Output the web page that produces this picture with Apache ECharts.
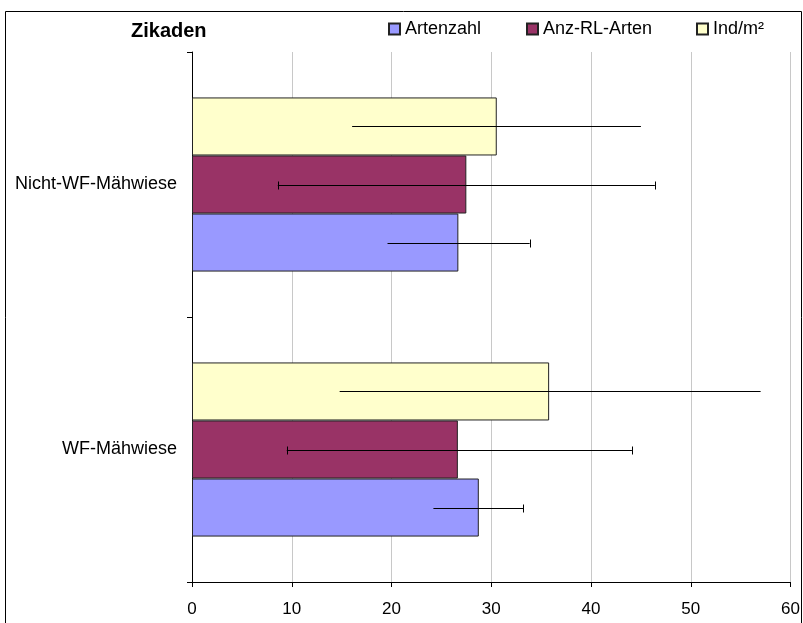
<!DOCTYPE html>
<html>
<head>
<meta charset="utf-8">
<script src="https://cdn.jsdelivr.net/npm/echarts@6/dist/echarts.min.js"></script>
<style>
html,body{margin:0;padding:0;background:#fff;}
#chart{width:803px;height:623px;}
</style>
</head>
<body>
<div id="chart"></div>
<script>
// ---- data ----
const categories = ['WF-Mähwiese', 'Nicht-WF-Mähwiese'];
const seriesNames = ['Artenzahl', 'Anz-RL-Arten', 'Ind/m²'];
const artenzahl = [28.75, 26.7];
const anzRL = [26.65, 27.5];
const indM2 = [35.8, 30.55];
const artenzahlErr = [[24.2, 33.2], [19.6, 33.85]];
const anzRLErr = [[9.5, 44.1], [8.6, 46.4]];
const indM2Err = [[14.8, 57.0], [16.05, 45.0]];
const xTicks = [0, 10, 20, 30, 40, 50, 60];

// ---- styles ----
const colors = ['#9999FF', '#993366', '#FFFFCC'];
const GAP = 0.343;
const FONT = 'Liberation Sans, Arial, sans-serif';

const chart = echarts.init(document.getElementById('chart'), null, {renderer: 'canvas'});

// pos: 0 = top bar within band, 2 = bottom bar
function errSeries(idx, pos, errs, capLeft, capRight) {
  return {
    type: 'custom',
    name: seriesNames[idx] + ' err',
    z: 10,
    silent: true,
    encode: {x: [0, 1], y: 2},
    data: errs.map((e, i) => [e[0], e[1], i]),
    renderItem: function (params, api) {
      const lo = api.value(0), hi = api.value(1), cat = api.value(2);
      const pLo = api.coord([lo, cat]);
      const pHi = api.coord([hi, cat]);
      const band = api.size([0, 1])[1];
      const barH = band * (1 - GAP) / 3;
      const y = Math.round(pLo[1] + (pos - 1) * barH) + 0.5;
      const st = {stroke: '#000', lineWidth: 1};
      const children = [{type: 'line', shape: {x1: pLo[0], y1: y, x2: pHi[0], y2: y}, style: st}];
      const cap = 4;
      if (capLeft) children.push({type: 'line', shape: {x1: Math.round(pLo[0]) + 0.5, y1: y - cap, x2: Math.round(pLo[0]) + 0.5, y2: y + cap}, style: st});
      if (capRight) children.push({type: 'line', shape: {x1: Math.round(pHi[0]) + 0.5, y1: y - cap, x2: Math.round(pHi[0]) + 0.5, y2: y + cap}, style: st});
      return {type: 'group', children: children};
    }
  };
}

function barSeries(idx, values) {
  return {
    type: 'bar',
    name: seriesNames[idx],
    data: values,
    barGap: '0%',
    barCategoryGap: (GAP * 100) + '%',
    itemStyle: {color: colors[idx], borderColor: '#222', borderWidth: 1},
    emphasis: {disabled: true}
  };
}

function legendAt(left, name) {
  return {
    left: left, top: 15,
    data: [name],
    icon: 'rect',
    itemWidth: 11, itemHeight: 11,
    itemGap: 0,
    textStyle: {fontFamily: FONT, fontSize: 18, color: '#000', padding: [0, 0, 0, 0]},
    selectedMode: false
  };
}

const option = {
  animation: false,
  backgroundColor: '#fff',
  title: {
    text: 'Zikaden', left: 126, top: 16,
    textStyle: {fontFamily: FONT, fontSize: 20, fontWeight: 'bold', color: '#000'}
  },
  legend: [legendAt(383, seriesNames[0]), legendAt(521, seriesNames[1]), legendAt(691, seriesNames[2])],
  grid: {left: 192, right: 9, top: 52, bottom: 41, containLabel: false},
  xAxis: {
    type: 'value', min: xTicks[0], max: xTicks[xTicks.length - 1], interval: 10,
    axisLine: {show: true, lineStyle: {color: '#000', width: 1}},
    axisTick: {show: true, length: 5, lineStyle: {color: '#000'}},
    axisLabel: {fontFamily: FONT, fontSize: 17, color: '#000', margin: 19},
    splitLine: {show: true, lineStyle: {color: '#c8c8c8', width: 1}}
  },
  yAxis: {
    type: 'category', data: categories,
    axisLine: {show: true, lineStyle: {color: '#000', width: 1}},
    axisTick: {show: true, length: 5, lineStyle: {color: '#000'}},
    axisLabel: {fontFamily: FONT, fontSize: 18, color: '#000', margin: 15, padding: [6, 0, 0, 0]}
  },
  graphic: [{
    type: 'rect', left: 3, top: 9, silent: true,
    shape: {x: 0, y: 0, width: 796, height: 620},
    style: {fill: 'none', stroke: '#000', lineWidth: 1}
  }],
  series: [
    barSeries(2, indM2),
    barSeries(1, anzRL),
    barSeries(0, artenzahl),
    errSeries(0, 2, artenzahlErr, false, true),
    errSeries(1, 1, anzRLErr, true, true),
    errSeries(2, 0, indM2Err, false, false)
  ]
};
chart.setOption(option);
</script>
</body>
</html>
